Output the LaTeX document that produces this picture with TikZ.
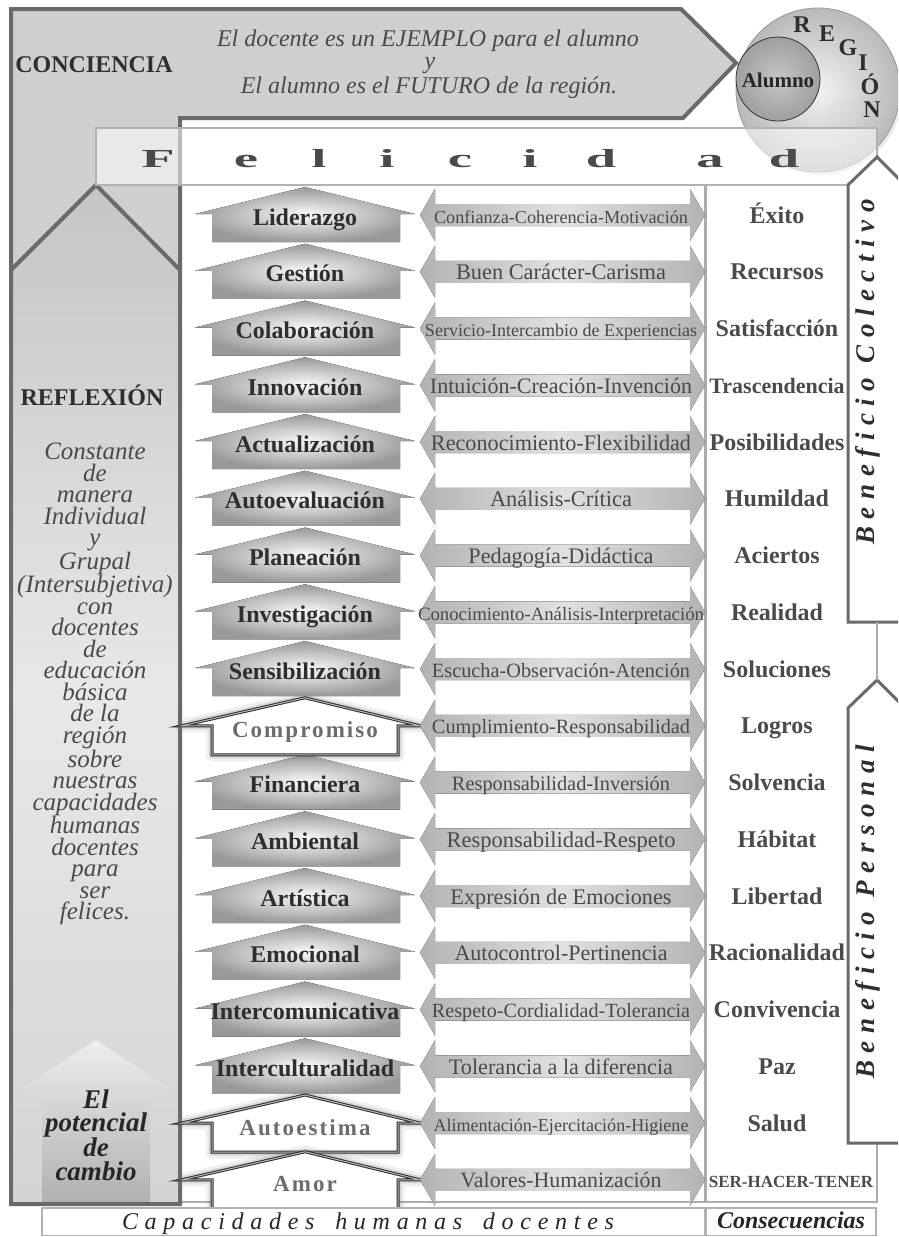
\documentclass[tikz,border=0pt]{standalone}
\usepackage{fontspec}
\usepackage{graphicx}
\setmainfont{Liberation Serif}
\usetikzlibrary{calc}
\definecolor{frameC}{HTML}{6A6A6A}
\definecolor{bandC}{HTML}{CFCFCF}
\definecolor{txtD}{HTML}{2E2E2E}
\definecolor{txtM}{HTML}{4A4A4A}
\definecolor{txtS}{HTML}{6C6C6C}
\newcommand{\fsz}[2]{\fontsize{#1}{#2}\selectfont}
\begin{document}
\begin{tikzpicture}[x=1pt,y=-1pt,
  capbox/.style={inner color=gray!4, outer color=gray!80},
  captext/.style={font=\bfseries\fsz{24}{24}, text=txtD, anchor=base, inner sep=0pt},
  spectext/.style={font=\bfseries\fsz{23}{23}\addfontfeature{LetterSpace=9}, text=txtS, anchor=base, inner sep=0pt},
  dbl/.style={left color=gray!60, right color=gray!60, middle color=gray!24},
  dtext/.style={text=txtM, inner sep=0pt, anchor=base},
  cons/.style={font=\bfseries\fsz{24}{24}, text=txtM, anchor=base, inner sep=0pt},
  felletter/.style={font=\bfseries\fsz{26}{26}, text=txtM, anchor=base, inner sep=0pt},
  benef/.style={font=\bfseries\itshape\fsz{27}{27}\addfontfeature{LetterSpace=28}, text=txtD, rotate=90, anchor=base, inner sep=0pt},
  regletter/.style={font=\bfseries\fsz{24}{24}, text=txtD, inner sep=0pt},
  bigtext/.style={font=\bfseries\fsz{24}{24}, text=txtD, inner sep=0pt},
  ittext/.style={font=\itshape\fsz{24}{24}, text=txtM, anchor=base, inner sep=0pt},
  benbox/.style={draw=frameC, line width=3, fill=white, line join=miter},
]
\useasboundingbox (0,0) rectangle (898,1237);
\clip (0,0) rectangle (898,1237);

% central and consequence boxes
\draw[gray!65, line width=1.3] (180,185) rectangle (705,1202);
\draw[gray!65, line width=1.3] (706,185) rectangle (877,1202);

% big L frame
\path[fill=bandC] (11,9) -- (681,9) -- (736,63) -- (683,118) -- (180,118) -- (180,1204) -- (11,1204) -- cycle;
\path[top color=gray!46, bottom color=gray!34, middle color=gray!18] (11,270) -- (96,185) -- (180,270) -- (180,1204) -- (11,1204) -- cycle;
\path[top color=gray!14, bottom color=gray!62] (11,1095) -- (96,1040) -- (180,1095) -- (150,1095) -- (150,1204) -- (42,1204) -- (42,1095) -- cycle;
\draw[frameC, line width=4, line join=miter] (11,270) -- (96,185) -- (180,270);
\draw[frameC, line width=4, line join=miter] (11,9) -- (681,9) -- (736,63) -- (683,118) -- (180,118) -- (180,1204) -- (11,1204) -- cycle;

% region circle
\fill[gray!75, opacity=0.25] (820,93) circle (82);
\shade[inner color=gray!10, outer color=gray!55, draw=gray!80, line width=0.8] (818,90) circle (82);
\shade[inner color=gray!45, outer color=gray!75, draw=gray!40!black, line width=0.8] (778,79) circle (42);
\node[font=\bfseries\fsz{21}{21}, text=black!85] (alumno) at (778,80) {Alumno};
\node[regletter] (rR) at (802,25) {R};
\node[regletter] (rE) at (827,34) {E};
\node[regletter] (rG) at (848,48) {G};
\node[regletter] (rI) at (863,63) {I};
\node[regletter] (rO) at (870,84) {Ó};
\node[regletter] (rN) at (872,110) {N};

% felicidad box
\path[fill=white, fill opacity=0.55] (96,128) rectangle (877,185);
\draw[gray!60, line width=2.2] (96,128) rectangle (877,185);
\foreach \lx/\lt in {158/F,246/e,319/l,387/i,460/c,530/i,601/d,710/a,784/d}{
  \node[felletter] (fel\lx) at (\lx,167) {\scalebox{2.1}[1]{\lt}};
}

% top texts
\node[bigtext] (conciencia) at (94,65) {CONCIENCIA};
\node[ittext] (ej1) at (428,46) {El docente es un EJEMPLO para el alumno};
\node[ittext] (ej2) at (430,68) {y};
\node[ittext] (ej3) at (429,93) {El alumno es el FUTURO de la región.};

% left column texts
\node[bigtext] (reflexion) at (92,395) {REFLEXIÓN};
\node[font=\itshape\fsz{25}{21.5}, text=txtM, align=center, inner sep=0pt] (constante) at (95,684)
 {Constante\\de\\manera\\Individual\\y\\Grupal\\(Intersubjetiva)\\con\\docentes\\de\\educación\\básica\\de la\\región\\sobre\\nuestras\\capacidades\\humanas\\docentes\\para\\ser\\felices.};
\node[font=\bfseries\itshape\fsz{27}{23.3}, text=black!85, align=center, inner sep=0pt] (potencial) at (96,1135)
 {El\\potencial\\de\\cambio};

% capacity arrows
\foreach \i/\txt in {0/Liderazgo,1/Gestión,2/Colaboración,3/Innovación,4/Actualización,5/Autoevaluación,6/Planeación,7/Investigación,8/Sensibilización,10/Financiera,11/Ambiental,12/Artística,13/Emocional,14/Intercomunicativa,15/Interculturalidad}{
  \pgfmathsetmacro{\y}{187+56.75*\i}
  \fill[capbox] (195,\y+27) -- (305,\y) -- (415,\y+27) -- (400,\y+27) -- (400,\y+55) -- (212,\y+55) -- (212,\y+27) -- cycle;
  \node[captext] (cap\i) at (305,\y+38) {\txt};
}
\foreach \i/\txt in {9/Compromiso,16/Autoestima,17/Amor}{
  \pgfmathsetmacro{\y}{187+56.75*\i}
  \draw[line width=3, draw=gray!35!black, fill=white, line join=miter,
    preaction={draw=gray, line width=13, opacity=0.12, line join=round},
    preaction={draw=gray, line width=7, opacity=0.22, line join=round},
    postaction={draw=gray!55, line width=1}]
    (182,\y+28) -- (305,\y) -- (420,\y+28) -- (398,\y+28) -- (398,\y+57) -- (212,\y+57) -- (212,\y+28) -- cycle;
  \node[spectext] (cap\i) at (305,\y+40) {\txt};
}

% double arrows
\foreach \i/\w/\txt in {0/254/Confianza-Coherencia-Motivación,1/210/Buen Carácter-Carisma,2/272/Servicio-Intercambio de Experiencias,3/262/Intuición-Creación-Invención,4/260/Reconocimiento-Flexibilidad,5/142/Análisis-Crítica,6/185/Pedagogía-Didáctica,7/286/Conocimiento-Análisis-Interpretación,8/258/Escucha-Observación-Atención,9/258/Cumplimiento-Responsabilidad,10/218/Responsabilidad-Inversión,11/229/Responsabilidad-Respeto,12/221/Expresión de Emociones,13/213/Autocontrol-Pertinencia,14/258/Respeto-Cordialidad-Tolerancia,15/224/Tolerancia a la diferencia,16/255/Alimentación-Ejercitación-Higiene,17/201/Valores-Humanización}{
  \pgfmathsetmacro{\cy}{187+56.75*\i+28}
  \fill[dbl] (420,\cy) -- (435,\cy-26) -- (435,\cy-11) -- (690,\cy-11) -- (690,\cy-26) -- (705,\cy) -- (690,\cy+26) -- (690,\cy+11) -- (435,\cy+11) -- (435,\cy+26) -- cycle;
  \node[dtext] (rel\i) at (561,\cy+8) {\resizebox{\w pt}{!}{\fsz{20}{20}\txt}};
}

% consequences
\foreach \i/\txt in {0/Éxito,1/Recursos,2/Satisfacción,4/Posibilidades,5/Humildad,6/Aciertos,7/Realidad,8/Soluciones,9/Logros,10/Solvencia,11/Hábitat,12/Libertad,13/Racionalidad,14/Convivencia,15/Paz,16/Salud}{
  \node[cons] (con\i) at (777,187+56.75*\i+36) {\txt};
}
\node[cons, font=\bfseries\fsz{22}{22}] (con3) at (777,187+56.75*3+36) {Trascendencia};
\node[cons, font=\bfseries\fsz{17}{17}] (con17) at (791,187+56.75*17+36) {SER-HACER-TENER};

% beneficio boxes
\draw[benbox] (848,622) -- (848,185) -- (877,157) -- (910,190) -- (910,622) -- cycle;
\draw[benbox] (848,1143) -- (848,708) -- (877,680) -- (910,713) -- (910,1143) -- cycle;
\draw[gray!65, line width=1.3] (877,622) -- (877,680);
\node[benef] (bcol) at (874,372) {Beneficio Colectivo};
\node[benef] (bper) at (874,912) {Beneficio Personal};

% bottom labels
\draw[gray!60, line width=1.5, fill=white] (42,1208) rectangle (705,1235.5);
\draw[gray!60, line width=1.5, fill=white] (706,1208) rectangle (876,1235.5);
\node[font=\itshape\fsz{24}{24}\addfontfeature{LetterSpace=28}, text=black!85, anchor=base, inner sep=0pt] (caplab) at (368,1229) {Capacidades\hspace{8pt} humanas\hspace{8pt} docentes};
\node[font=\bfseries\itshape\fsz{24}{24}, text=black!85, anchor=base, inner sep=0pt] (conslab) at (791,1228) {Consecuencias};
\end{tikzpicture}
\end{document}
